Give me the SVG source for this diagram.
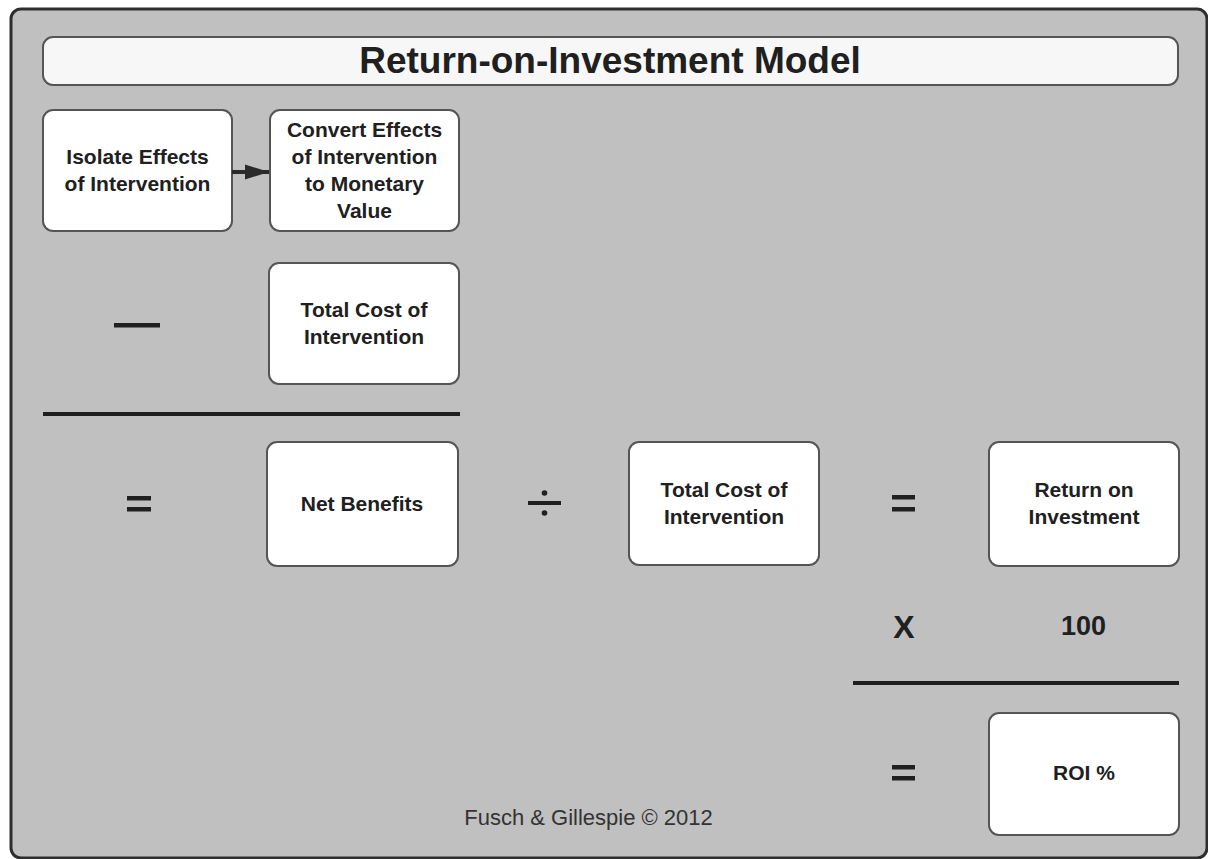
<svg xmlns="http://www.w3.org/2000/svg" width="1208" height="859" viewBox="0 0 1208 859">
  <style>
    .box { fill: #ffffff; stroke: #555555; stroke-width: 2; }
    .lbl { font-family: "Liberation Sans", Arial, sans-serif; font-weight: bold; font-size: 21px; fill: #202020; text-anchor: middle; }
    .op { fill: #202020; }
    .rule { stroke: #1e1e1e; stroke-width: 4; }
  </style>
  <defs>
    <marker id="arrowhead" markerUnits="userSpaceOnUse" markerWidth="26" markerHeight="18" refX="24" refY="9" orient="auto">
      <path d="M0,1.5 L24,9 L0,16.5 Z" fill="#2a2a2a"/>
    </marker>
  </defs>

  <!-- page background and frame -->
  <rect x="0" y="0" width="1208" height="859" fill="#ffffff"/>
  <rect x="11" y="9" width="1196" height="849" rx="10" fill="#c0c0c0" stroke="#2e2e2e" stroke-width="3"/>

  <!-- title banner -->
  <g id="title">
    <rect x="43" y="37" width="1135" height="48" rx="10" fill="#f7f7f7" stroke="#555555" stroke-width="2"/>
    <text x="610" y="73" class="lbl" style="font-size:37px">Return-on-Investment Model</text>
  </g>

  <g id="isolate">
    <rect class="box" x="43" y="110" width="189" height="121" rx="10"/>
    <text class="lbl" x="137.5" y="164">Isolate Effects</text>
    <text class="lbl" x="137.5" y="191">of Intervention</text>
  </g>

  <g id="convert">
    <rect class="box" x="270" y="110" width="189" height="121" rx="10"/>
    <text class="lbl" x="364.5" y="137">Convert Effects</text>
    <text class="lbl" x="364.5" y="164">of Intervention</text>
    <text class="lbl" x="364.5" y="191">to Monetary</text>
    <text class="lbl" x="364.5" y="218">Value</text>
  </g>

  <g id="connectors">
    <line x1="232" y1="172" x2="269" y2="172" stroke="#2a2a2a" stroke-width="4" marker-end="url(#arrowhead)"/>
  </g>

  <!-- subtraction -->
  <g id="minus">
    <rect class="op" x="114" y="323" width="46" height="4.5"/>
  </g>

  <g id="cost1">
    <rect class="box" x="269" y="263" width="190" height="121" rx="10"/>
    <text class="lbl" x="364" y="317">Total Cost of</text>
    <text class="lbl" x="364" y="344">Intervention</text>
  </g>

  <line class="rule" x1="43" y1="414" x2="460" y2="414"/>

  <g id="equals1">
    <rect class="op" x="127" y="496" width="24" height="4.5"/>
    <rect class="op" x="127" y="507" width="24" height="4.5"/>
  </g>

  <g id="netBenefits">
    <rect class="box" x="267" y="442" width="191" height="124" rx="10"/>
    <text class="lbl" x="362" y="511">Net Benefits</text>
  </g>

  <g id="divide">
    <rect class="op" x="528" y="501" width="33" height="4"/>
    <circle class="op" cx="544.5" cy="493" r="2.8"/>
    <circle class="op" cx="544.5" cy="513" r="2.8"/>
  </g>

  <g id="cost2">
    <rect class="box" x="629" y="442" width="190" height="123" rx="10"/>
    <text class="lbl" x="724" y="497">Total Cost of</text>
    <text class="lbl" x="724" y="524">Intervention</text>
  </g>

  <g id="equals2">
    <rect class="op" x="892" y="495" width="23" height="4.5"/>
    <rect class="op" x="892" y="507" width="23" height="4.5"/>
  </g>

  <g id="roi">
    <rect class="box" x="989" y="442" width="190" height="124" rx="10"/>
    <text class="lbl" x="1084" y="497">Return on</text>
    <text class="lbl" x="1084" y="524">Investment</text>
  </g>

  <g id="times">
    <text class="lbl" x="904" y="638" style="font-size:32px">X</text>
  </g>
  <g id="hundred">
    <text class="lbl" x="1083.5" y="635" style="font-size:27px">100</text>
  </g>

  <line class="rule" x1="853" y1="683" x2="1179" y2="683"/>

  <g id="equals3">
    <rect class="op" x="892" y="765" width="23" height="4.5"/>
    <rect class="op" x="892" y="776" width="23" height="4.5"/>
  </g>

  <g id="roiPercent">
    <rect class="box" x="989" y="713" width="190" height="122" rx="10"/>
    <text class="lbl" x="1084" y="780">ROI %</text>
  </g>

  <text x="588.5" y="825" style="font-family:'Liberation Sans', Arial, sans-serif; font-size:22px; fill:#333333; text-anchor:middle">Fusch &amp; Gillespie © 2012</text>
</svg>
